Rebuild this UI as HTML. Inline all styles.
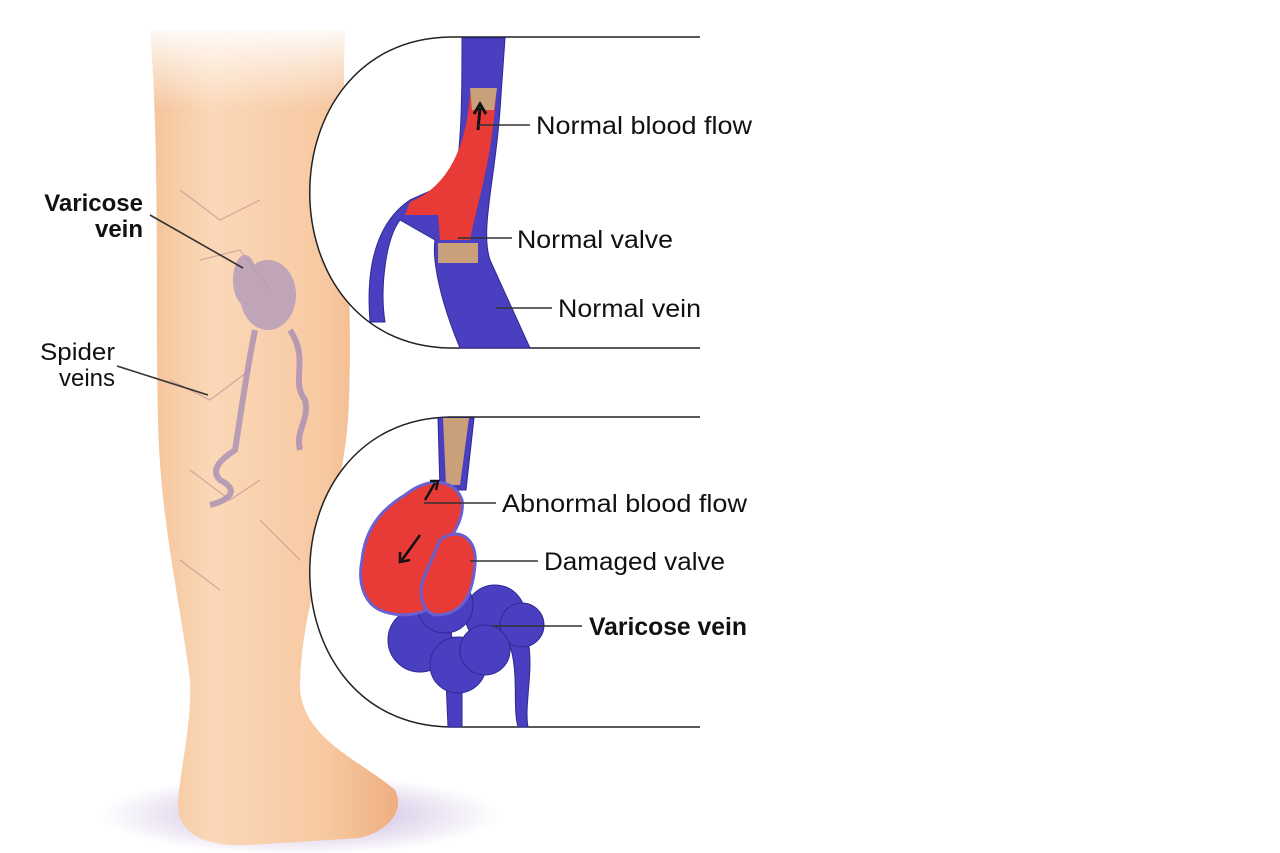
<!DOCTYPE html>
<html><head><style>
html,body{margin:0;padding:0;background:#fff}
svg{display:block}
text{font-family:"Liberation Sans",sans-serif;fill:#111}
</style></head><body>
<svg width="1280" height="853" viewBox="0 0 1280 853" xmlns="http://www.w3.org/2000/svg">
<defs>
<linearGradient id="skin" x1="0" y1="0" x2="1" y2="0">
<stop offset="0" stop-color="#f4c49a"/><stop offset="0.25" stop-color="#fbd8b8"/><stop offset="0.7" stop-color="#f7c9a2"/><stop offset="1" stop-color="#eeae80"/>
</linearGradient>
<linearGradient id="fade" x1="0" y1="0" x2="0" y2="1">
<stop offset="0" stop-color="#fff" stop-opacity="1"/><stop offset="1" stop-color="#fff" stop-opacity="0"/>
</linearGradient>
<radialGradient id="shadow" cx="0.5" cy="0.5" r="0.5">
<stop offset="0" stop-color="#a58ac9" stop-opacity="0.7"/><stop offset="1" stop-color="#a58ac9" stop-opacity="0"/>
</radialGradient>
</defs>
<ellipse cx="300" cy="815" rx="200" ry="40" fill="url(#shadow)"/>
<path d="M150 30 L345 30 C340 150 355 300 348 420 C340 520 300 600 300 690 C305 740 360 760 395 790 C405 810 390 830 360 838 L250 845 C200 848 175 830 178 800 C182 760 192 720 190 680 C180 600 160 520 158 420 C155 300 160 150 150 30 Z" fill="url(#skin)"/>
<rect x="120" y="20" width="260" height="90" fill="url(#fade)"/>
<g fill="none" stroke="#b9858f" stroke-width="1.2" opacity="0.6">
<path d="M180 190 L220 220 L260 200 M200 260 L240 250 L270 290 M170 380 L210 400 L250 370 M190 470 L230 500 L260 480 M260 520 L300 560 M180 560 L220 590"/>
</g>
<g fill="#b39abb" opacity="0.8">
<ellipse cx="268" cy="295" rx="28" ry="35"/>
<ellipse cx="245" cy="280" rx="12" ry="25"/>
</g>
<g fill="none" stroke="#a88eb5" stroke-width="6" opacity="0.8">
<path d="M255 330 C245 380 240 420 235 450 C220 460 210 470 220 480 C240 490 230 500 210 505"/>
<path d="M290 330 C310 360 290 380 305 400 C310 420 295 430 300 450"/>
</g>
<!-- insets -->
<path d="M700 37 L450 37 C263 40 263 345 450 348 L700 348" fill="#fff" stroke="#222" stroke-width="1.5"/>
<path d="M700 417 L450 417 C263 420 263 724 450 727 L700 727" fill="#fff" stroke="#222" stroke-width="1.5"/>
<!-- top vein -->
<path d="M462 38 L505 38 L500 110 C495 180 480 230 490 260 L530 348 L460 348 C440 300 432 260 435 240 L400 220 C385 240 380 290 385 322 L370 322 C365 260 380 220 410 200 L455 180 C462 140 462 90 462 38 Z" fill="#4a3fc0" stroke="#2e2a90"/>
<path d="M470 95 L496 95 C492 160 478 200 470 240 L440 240 L438 215 L405 215 L410 202 C440 190 465 160 470 95 Z" fill="#e83a36"/>
<path d="M470 88 L497 88 L494 110 L472 110 Z" fill="#c9a07a"/>
<rect x="438" y="243" width="40" height="20" fill="#c9a07a"/>
<path d="M478 130 L480 108 M474 114 L480 104 L486 114" stroke="#111" stroke-width="3" fill="none"/>
<!-- bottom vein -->
<g fill="#4a3fc0" stroke="#2e2a90">
<path d="M446 680 L448 727 L462 727 L462 680 Z"/>
<path d="M508 640 C520 670 512 705 518 727 L528 727 C524 705 534 670 528 640 Z"/>
<circle cx="420" cy="640" r="32"/>
<circle cx="458" cy="665" r="28"/>
<circle cx="495" cy="615" r="30"/>
<circle cx="522" cy="625" r="22"/>
<circle cx="485" cy="650" r="25"/>
<circle cx="445" cy="605" r="28"/>
<path d="M438 418 L474 418 L466 490 L440 490 Z"/>
</g>
<path d="M443 418 L469 418 L460 485 L446 485 Z" fill="#c9a07a"/>
<path d="M405 495 C430 475 455 480 462 500 C465 520 450 540 440 550 L440 600 C425 615 405 618 385 612 C362 605 358 580 362 560 C365 530 380 510 405 495 Z" fill="#e83a36" stroke="#6a60d0" stroke-width="3"/>
<path d="M440 540 C460 525 478 540 475 565 C472 600 460 615 435 615 C420 610 418 590 425 575 Z" fill="#e83a36" stroke="#6a60d0" stroke-width="3"/>
<path d="M435 483 L425 500 M430 481 L438 481 L436 490" stroke="#111" stroke-width="2.5" fill="none"/>
<path d="M420 535 L402 560 M400 552 L400 562 L410 560" stroke="#111" stroke-width="2.5" fill="none"/>
<!-- leader lines -->
<g stroke="#333" stroke-width="1.6" fill="none">
<line x1="478" y1="125" x2="530" y2="125"/>
<line x1="458" y1="238" x2="512" y2="238"/>
<line x1="496" y1="308" x2="552" y2="308"/>
<line x1="424" y1="503" x2="496" y2="503"/>
<line x1="470" y1="561" x2="538" y2="561"/>
<line x1="492" y1="626" x2="582" y2="626"/>
<line x1="150" y1="215" x2="243" y2="268"/>
<line x1="117" y1="366" x2="208" y2="395"/>
</g>
<g font-size="25">
<text x="536" y="134" textLength="216" lengthAdjust="spacingAndGlyphs">Normal blood flow</text>
<text x="517" y="248" textLength="156" lengthAdjust="spacingAndGlyphs">Normal valve</text>
<text x="558" y="317" textLength="143" lengthAdjust="spacingAndGlyphs">Normal vein</text>
<text x="502" y="512" textLength="245" lengthAdjust="spacingAndGlyphs">Abnormal blood flow</text>
<text x="544" y="570" textLength="181" lengthAdjust="spacingAndGlyphs">Damaged valve</text>
<text x="589" y="635" font-weight="bold" textLength="158" lengthAdjust="spacingAndGlyphs">Varicose vein</text>
</g>
<g font-size="24">
<text x="143" y="211" font-weight="bold" text-anchor="end">Varicose</text>
<text x="143" y="237" font-weight="bold" text-anchor="end">vein</text>
<text x="40" y="360" textLength="75" lengthAdjust="spacingAndGlyphs">Spider</text>
<text x="115" y="386" text-anchor="end">veins</text>
</g>
</svg>
</body></html>
